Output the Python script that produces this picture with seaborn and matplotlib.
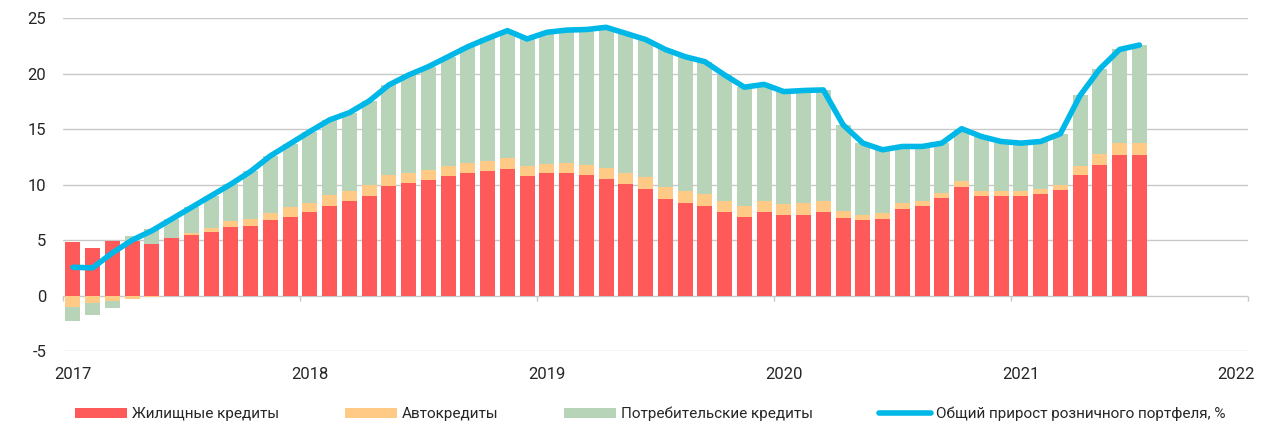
import numpy as np
import matplotlib
matplotlib.use("Agg")
import matplotlib.pyplot as plt
import matplotlib.transforms as mtransforms
import seaborn as sns
from matplotlib.patches import Patch
from matplotlib.lines import Line2D


# monthly values, Jan 2017 .. Jul 2021
years = ["2017", "2018", "2019", "2020", "2021", "2022"]

mortgage = [4.83, 4.26, 4.95, 4.9, 4.68, 5.17, 5.47, 5.74, 6.16, 6.25, 6.79, 7.12,
            7.5, 8.1, 8.5, 8.95, 9.9, 10.15, 10.39, 10.75, 11.02, 11.2, 11.44, 10.75,
            11.02, 11.02, 10.84, 10.48, 10.06, 9.64, 8.68, 8.38, 8.05, 7.5, 7.12, 7.5,
            7.3, 7.3, 7.5, 6.97, 6.79, 6.9, 7.8, 8.1, 8.77, 9.8, 8.95, 8.95,
            8.98, 9.19, 9.55, 10.9, 11.8, 12.67, 12.7]

auto = [-1.0, -0.7, -0.5, -0.33, -0.15, 0.05, 0.13, 0.33, 0.6, 0.65, 0.69, 0.88,
        0.88, 0.97, 0.9, 0.99, 1.0, 0.95, 0.96, 0.95, 0.93, 0.93, 0.93, 0.9,
        0.88, 0.93, 0.96, 1.02, 0.99, 1.02, 1.11, 1.05, 1.08, 1.0, 0.98, 1.0,
        0.99, 1.05, 1.0, 0.69, 0.48, 0.58, 0.55, 0.46, 0.45, 0.53, 0.51, 0.45,
        0.42, 0.41, 0.45, 0.8, 0.96, 1.05, 1.02]

consumer = [-1.3, -1.08, -0.6, 0.43, 1.32, 1.68, 2.35, 2.93, 3.29, 4.3, 5.12, 5.7,
            6.42, 6.78, 7.1, 7.61, 8.1, 8.8, 9.3, 9.85, 10.5, 11.07, 11.53, 11.5,
            11.85, 12.0, 12.2, 12.7, 12.6, 12.44, 12.41, 12.12, 11.97, 11.4, 10.7, 10.55,
            10.11, 10.15, 10.05, 7.74, 6.48, 5.67, 5.1, 4.89, 4.53, 4.72, 4.89, 4.5,
            4.35, 4.3, 4.6, 6.35, 7.69, 8.48, 8.88]

total = [2.55, 2.5, 3.85, 5.0, 5.85, 6.9, 7.95, 9.0, 10.05, 11.2, 12.6, 13.7,
         14.8, 15.85, 16.5, 17.55, 19.0, 19.9, 20.65, 21.55, 22.45, 23.2, 23.9, 23.15,
         23.75, 23.95, 24.0, 24.2, 23.65, 23.1, 22.2, 21.55, 21.1, 19.9, 18.8, 19.05,
         18.4, 18.5, 18.55, 15.4, 13.75, 13.15, 13.45, 13.45, 13.75, 15.05, 14.35, 13.9,
         13.75, 13.9, 14.6, 18.05, 20.45, 22.2, 22.6]

labels = ["Жилищные кредиты", "Автокредиты", "Потребительские кредиты",
          "Общий прирост розничного портфеля, %"]

colors = ["#FF5A5A", "#FFC986", "#B8D4B8"]
line_color = "#00B8E8"
grid_color = "#C8C8C8"
text_color = "#262626"


sns.set_theme(style="white")
plt.rcParams["font.family"] = ["Roboto", "DejaVu Sans"]
plt.rcParams["axes.unicode_minus"] = False

x = np.arange(len(mortgage)) + 0.5

fig = plt.figure(figsize=(12.63, 4.28), dpi=100)
ax = fig.add_axes([0.0499, 0.18, 0.9382, 0.7769])

# stacked bars, positives up and negatives down
pos_base = np.zeros(len(x))
neg_base = np.zeros(len(x))
for vals, c in zip([mortgage, auto, consumer], colors):
    v = np.array(vals)
    bottom = np.where(v >= 0, pos_base, neg_base)
    sns.barplot(x=x, y=v, bottom=bottom, native_scale=True, width=0.76,
                color=c, saturation=1, errorbar=None, linewidth=0, ax=ax)
    pos_base = pos_base + np.clip(v, 0, None)
    neg_base = neg_base + np.clip(v, None, 0)

sns.lineplot(x=x, y=total, color=line_color, linewidth=4,
             solid_capstyle="round", ax=ax)

ax.set_xlim(0, 12 * (len(years) - 1))
ax.set_ylim(-5, 25)
ax.set_yticks(range(-5, 30, 5))
ax.set_xticks([])
ax.set_xlabel("")
ax.set_ylabel("")
ax.set_axisbelow(True)
ax.yaxis.grid(True, color=grid_color, linewidth=1)
ax.tick_params(axis="y", length=0, pad=12, labelsize=12, labelcolor=text_color)
for s in ax.spines.values():
    s.set_visible(False)

# year boundary ticks on the zero line
bounds = [12 * i for i in range(len(years))]
ax.vlines(bounds, -0.5, 0, color=grid_color, linewidth=1, clip_on=False, zorder=0.5)

trans = mtransforms.blended_transform_factory(ax.transData, ax.transAxes)
for i, yr in enumerate(years):
    if i == len(years) - 1:
        ax.text(12 * i + 0.35, -0.072, yr, transform=trans, ha="right", va="center",
                fontsize=12, color=text_color)
    else:
        ax.text(12 * i + 0.5, -0.072, yr, transform=trans, ha="center", va="center",
                fontsize=12, color=text_color)

handles = [Patch(facecolor=c, edgecolor="none") for c in colors]
handles.append(Line2D([0], [0], color=line_color, linewidth=4, solid_capstyle="round"))
leg = fig.legend(handles, labels, loc="center left", bbox_to_anchor=(75 / 1263, 1 - 414 / 428),
                 ncol=4, frameon=False, fontsize=11, handlelength=3.4, handleheight=0.65,
                 handletextpad=0.33, columnspacing=4.3, borderpad=0, borderaxespad=0)
for t in leg.get_texts():
    t.set_color(text_color)

fig.savefig("out.png", dpi=100)
